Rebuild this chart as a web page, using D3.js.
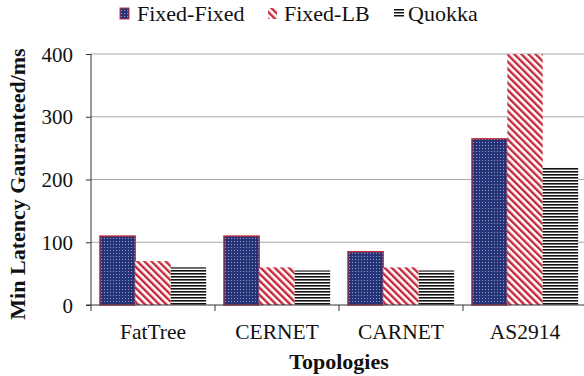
<!DOCTYPE html>
<html>
<head>
<meta charset="utf-8">
<script src="https://cdn.jsdelivr.net/npm/d3@7"></script>
<style>
  html, body { margin: 0; padding: 0; background: #fff; }
  svg { display: block; }
</style>
</head>
<body>
<div id="chart"></div>
<script>
// Minimum guaranteed latency per topology
const topologies = ["FatTree", "CERNET", "CARNET", "AS2914"];
const seriesNames = ["Fixed-Fixed", "Fixed-LB", "Quokka"];
const fixedFixed = [110, 110, 85, 265];
const fixedLB = [70, 60, 60, 400];
const quokka = [60, 55, 55, 220];
const yTicks = [0, 100, 200, 300, 400];

const seriesValues = [fixedFixed, fixedLB, quokka];
const rows = topologies.map((t, i) => ({
  topology: t,
  values: seriesNames.map((s, j) => ({ series: s, value: seriesValues[j][i] }))
}));

const SERIF = "'Liberation Serif', 'Times New Roman', Times, serif";

const W = 584, H = 376;
const margin = { top: 54, right: -3, bottom: 71, left: 91 };
const iw = W - margin.left - margin.right;
const ih = H - margin.top - margin.bottom;

const svg = d3.select("#chart").append("svg").attr("width", W).attr("height", H)
  .style("font-family", SERIF);
const defs = svg.append("defs");

// Fill patterns
const pDots = defs.append("pattern").attr("id", "p-ff").attr("patternUnits", "userSpaceOnUse")
  .attr("width", 3).attr("height", 3);
pDots.append("rect").attr("width", 3).attr("height", 3).attr("fill", "#263477");
pDots.append("rect").attr("x", 1).attr("y", 1).attr("width", 1).attr("height", 1).attr("fill", "#8d9bd0");

const pDiag = defs.append("pattern").attr("id", "p-lb").attr("patternUnits", "userSpaceOnUse")
  .attr("width", 5).attr("height", 5).attr("patternTransform", "rotate(-45)");
pDiag.append("rect").attr("width", 5).attr("height", 5).attr("fill", "#fff");
pDiag.append("rect").attr("width", 2.4).attr("height", 5).attr("fill", "#c4283a");

const pHoriz = defs.append("pattern").attr("id", "p-q").attr("patternUnits", "userSpaceOnUse")
  .attr("width", 6).attr("height", 3);
pHoriz.append("rect").attr("width", 6).attr("height", 3).attr("fill", "#fff");
pHoriz.append("rect").attr("width", 6).attr("height", 1.6).attr("fill", "#111");

const fills = { "Fixed-Fixed": "url(#p-ff)", "Fixed-LB": "url(#p-lb)", "Quokka": "url(#p-q)" };

const g = svg.append("g").attr("transform", `translate(${margin.left},${margin.top})`);

const x0 = d3.scaleBand().domain(topologies).range([0, iw]).paddingInner(0).paddingOuter(0);
const x1 = d3.scaleBand().domain(seriesNames).range([0, x0.bandwidth()]).paddingInner(0).paddingOuter(0.25);
const y = d3.scaleLinear().domain([0, 400]).range([ih, 0]);

// Horizontal gridlines
g.append("g").selectAll("line").data(yTicks.filter(d => d > 0)).join("line")
  .attr("x1", 0).attr("x2", iw + 3)
  .attr("y1", d => y(d)).attr("y2", d => y(d))
  .attr("stroke", "#a8a8a8").attr("stroke-width", 1.2);

// Bars
const groups = g.selectAll("g.grp").data(rows).join("g")
  .attr("class", "grp")
  .attr("transform", d => `translate(${x0(d.topology)},0)`);
groups.selectAll("rect").data(d => d.values).join("rect")
  .attr("x", d => x1(d.series))
  .attr("y", d => y(d.value))
  .attr("width", x1.bandwidth())
  .attr("height", d => ih - y(d.value))
  .attr("fill", d => fills[d.series])
  .attr("stroke", d => d.series === "Fixed-Fixed" ? "#c8323f" : "none")
  .attr("stroke-width", 1.3);

// Y axis
const yAxis = g.append("g").call(d3.axisLeft(y).tickValues(yTicks).tickSize(5).tickPadding(13));
yAxis.attr("font-family", SERIF).attr("font-size", 21);
yAxis.select(".domain").attr("stroke", "#333").attr("d", `M0,${ih}V0`);
yAxis.selectAll(".tick line").attr("stroke", "#333");
yAxis.selectAll("text").attr("fill", "#111").style("font-family", SERIF).attr("dy", "0.34em");

// X axis with ticks at category boundaries
const xAxisG = g.append("g").attr("transform", `translate(0,${ih})`);
xAxisG.append("line").attr("x1", -5).attr("x2", iw).attr("stroke", "#333");
const bounds = topologies.map(t => x0(t));
xAxisG.selectAll("line.tk").data(bounds).join("line").attr("class", "tk")
  .attr("x1", d => d).attr("x2", d => d).attr("y1", 0).attr("y2", 6).attr("stroke", "#333");
xAxisG.selectAll("text.lbl").data(topologies).join("text").attr("class", "lbl")
  .attr("x", d => x0(d) + x0.bandwidth() / 2).attr("y", 34)
  .attr("text-anchor", "middle").attr("font-size", 21.5).attr("fill", "#111")
  .style("font-family", SERIF).text(d => d);

// Axis titles
svg.append("text").attr("x", margin.left + iw / 2).attr("y", 369)
  .attr("text-anchor", "middle").attr("font-size", 22).attr("font-weight", "bold")
  .attr("fill", "#111").style("font-family", SERIF).text("Topologies");
svg.append("text").attr("transform", `translate(25,184) rotate(-90)`)
  .attr("text-anchor", "middle").attr("font-size", 22).attr("font-weight", "bold")
  .attr("fill", "#111").style("font-family", SERIF)
  .text("Min Latency Gauranteed/ms");

// Legend
const legendPos = [
  { s: "Fixed-Fixed", sx: 120, tx: 137 },
  { s: "Fixed-LB", sx: 268, tx: 284 },
  { s: "Quokka", sx: 394, tx: 408 }
];
const leg = svg.append("g");
legendPos.forEach(d => {
  if (d.s === "Quokka") {
    [9, 12, 15].forEach(yy => leg.append("rect").attr("x", d.sx).attr("y", yy).attr("width", 10).attr("height", 1.5).attr("fill", "#111"));
  } else {
    leg.append("rect").attr("x", d.sx).attr("y", 8).attr("width", 9).attr("height", 11)
      .attr("fill", fills[d.s])
      .attr("stroke", d.s === "Fixed-Fixed" ? "#c8323f" : "none").attr("stroke-width", 1);
  }
  leg.append("text").attr("x", d.tx).attr("y", 21).attr("font-size", 22).attr("fill", "#111")
    .style("font-family", SERIF).text(d.s);
});
</script>
</body>
</html>
